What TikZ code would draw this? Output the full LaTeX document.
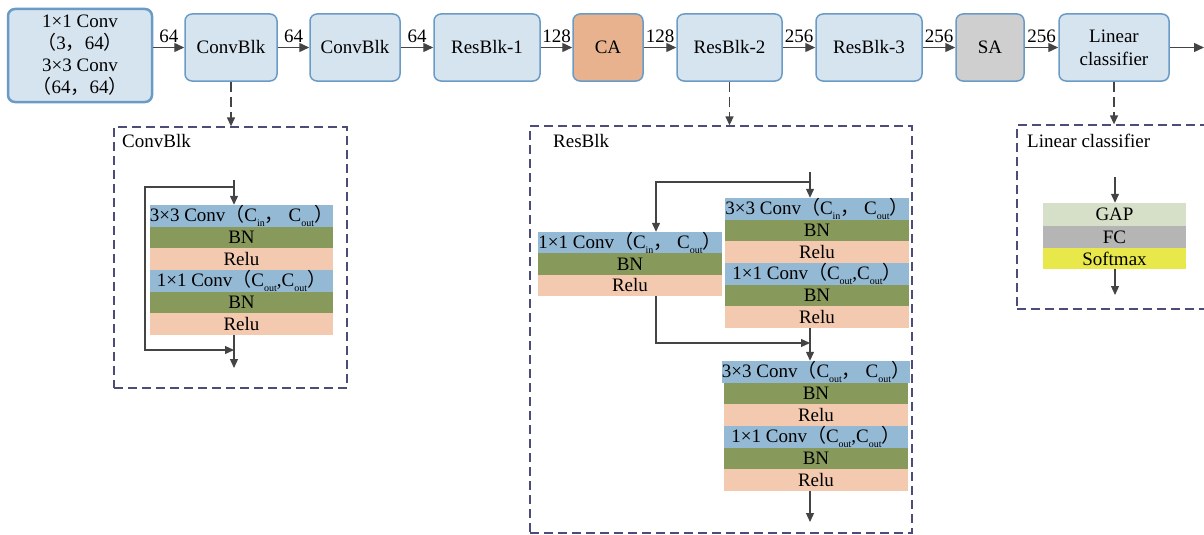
\documentclass[tikz,border=0pt]{standalone}
\usepackage{fontspec}
\setmainfont{Liberation Serif}
\newfontfamily\cjk{Noto Sans CJK SC}
\usetikzlibrary{arrows.meta}
\newcommand\zlp{{\cjk （}}
\newcommand\zrp{{\cjk ）}}
\newcommand\zcm{{\cjk ，}}
\newcommand\lowsub[1]{\raisebox{-0.55ex}{\fontsize{10}{10}\selectfont #1}}
\definecolor{boxfill}{HTML}{D6E4EF}
\definecolor{boxdraw}{HTML}{6A9BC6}
\definecolor{cafill}{HTML}{E8B28F}
\definecolor{safill}{HTML}{CFCFCF}
\definecolor{arrowgray}{HTML}{444444}
\definecolor{dashcol}{HTML}{4C4C78}
\definecolor{rowblue}{HTML}{94B9D4}
\definecolor{rowgreen}{HTML}{879A5B}
\definecolor{rowpink}{HTML}{F3C9AF}
\definecolor{gapcol}{HTML}{D6E0C9}
\definecolor{fccol}{HTML}{B5B5B5}
\definecolor{smcol}{HTML}{E8E84B}
\tikzset{
  topbox/.style={draw=boxdraw, fill=boxfill, line width=1.5pt, rounded corners=7pt,
    minimum height=67pt, inner sep=0pt, font=\fontsize{19}{23}\selectfont, align=center},
  arr/.style={draw=arrowgray, line width=1.4pt, -{Triangle[length=10pt,width=9pt]}},
  sarr/.style={draw=arrowgray, line width=1.2pt, -{Triangle[length=9pt,width=8pt]}},
  darr/.style={draw=arrowgray, line width=1.3pt, dash pattern=on 10pt off 5pt, -{Triangle[length=9pt,width=8pt]}},
  lbl/.style={above, inner sep=4pt, font=\fontsize{19}{19}\selectfont},
  dbox/.style={draw=dashcol, line width=1.3pt, dash pattern=on 9pt off 5pt, inner sep=0pt},
  dlbl/.style={anchor=west, inner sep=0pt, font=\fontsize{19}{19}\selectfont},
  row/.style={inner sep=0pt, font=\fontsize{19}{19}\selectfont},
}
\begin{document}
\begin{tikzpicture}[x=1pt,y=-1pt]
\useasboundingbox (0,0) rectangle (1204,535);
% top row
\node[topbox, line width=2.5pt, minimum width=144pt, minimum height=93pt, font=\fontsize{19}{22}\selectfont] (b1) at (80,55.5)
  {1×1 Conv\\\zlp 3\zcm 64\zrp\\3×3 Conv\\\zlp 64\zcm 64\zrp};
\node[topbox, minimum width=92pt] (cb1) at (231,47.5) {ConvBlk};
\node[topbox, minimum width=90pt] (cb2) at (355,47.5) {ConvBlk};
\node[topbox, minimum width=106pt] (rb1) at (487,47.5) {ResBlk-1};
\node[topbox, minimum width=70pt, fill=cafill] (ca) at (608,47.5) {CA};
\node[topbox, minimum width=105pt] (rb2) at (729.5,47.5) {ResBlk-2};
\node[topbox, minimum width=106pt] (rb3) at (869,47.5) {ResBlk-3};
\node[topbox, minimum width=68pt, fill=safill] (sa) at (990,47.5) {SA};
\node[topbox, minimum width=110pt] (lc) at (1114,47.5) {Linear\\classifier};
\coordinate (out) at (1204,47.5);
\draw[arr] (b1.east |- cb1.west) -- node[lbl]{64} (cb1.west);
\draw[arr] (cb1.east) -- node[lbl]{64} (cb2.west);
\draw[arr] (cb2.east) -- node[lbl]{64} (rb1.west);
\draw[arr] (rb1.east) -- node[lbl]{128} (ca.west);
\draw[arr] (ca.east) -- node[lbl]{128} (rb2.west);
\draw[arr] (rb2.east) -- node[lbl]{256} (rb3.west);
\draw[arr] (rb3.east) -- node[lbl]{256} (sa.west);
\draw[arr] (sa.east) -- node[lbl]{256} (lc.west);
\draw[arr] (lc.east) -- (out);

% dashed boxes
\node[dbox, minimum width=233pt, minimum height=261pt] (cbx) at (230.5,257.5) {};
\node[dbox, minimum width=382pt, minimum height=407pt] (rbx) at (721,329.5) {};
\node[dbox, minimum width=193pt, minimum height=184pt] (lcx) at (1113.5,217) {};
\node[dlbl] (cbxl) at (122,141) {ConvBlk};
\node[dlbl] (rbxl) at (553,141) {ResBlk};
\node[dlbl] (lcxl) at (1027,141) {Linear classifier};
\draw[darr] (cb1.south) -- (cb1.south |- cbx.north);
\draw[darr] (rb2.south) -- (rb2.south |- rbx.north);
\draw[darr] (lc.south) -- (lc.south |- lcx.north);

% ConvBlk stack
\begin{scope}[row/.append style={minimum width=183pt, minimum height=21.67pt}]
\node[row, fill=rowblue]  (c1) at (241.5,215.83) {3×3 Conv\zlp C\lowsub{in}\zcm\ C\lowsub{out}\zrp};
\node[row, fill=rowgreen] (c2) at (241.5,237.5) {BN};
\node[row, fill=rowpink]  (c3) at (241.5,259.17) {Relu};
\node[row, fill=rowblue]  (c4) at (241.5,280.83) {1×1 Conv\zlp C\lowsub{out},C\lowsub{out}\zrp};
\node[row, fill=rowgreen] (c5) at (241.5,302.5) {BN};
\node[row, fill=rowpink]  (c6) at (241.5,324.17) {Relu};
\end{scope}
\coordinate (cin) at (234,180);
\coordinate (csplit) at (234,187);
\coordinate (cleft) at (145,187);
\coordinate (cbl) at (145,350);
\coordinate (cjoin) at (234,350);
\coordinate (cout) at (234,368);
\draw[sarr] (cin) -- (cin |- c1.north);
\draw[sarr] (csplit) -- (cleft) -- (cbl) -- (cjoin);
\draw[sarr] (cjoin |- c6.south) -- (cout);

% ResBlk stacks
\begin{scope}[row/.append style={minimum width=184pt, minimum height=21.67pt}]
\node[row, fill=rowblue]  (r1) at (817,208.83) {3×3 Conv\zlp C\lowsub{in}\zcm\ C\lowsub{out}\zrp};
\node[row, fill=rowgreen] (r2) at (817,230.5) {BN};
\node[row, fill=rowpink]  (r3) at (817,252.17) {Relu};
\node[row, fill=rowblue]  (r4) at (817,273.83) {1×1 Conv\zlp C\lowsub{out},C\lowsub{out}\zrp};
\node[row, fill=rowgreen] (r5) at (817,295.5) {BN};
\node[row, fill=rowpink]  (r6) at (817,317.17) {Relu};
\node[row, fill=rowblue]  (s1) at (816,371.83) {3×3 Conv\zlp C\lowsub{out}\zcm\ C\lowsub{out}\zrp};
\node[row, fill=rowgreen] (s2) at (816,393.5) {BN};
\node[row, fill=rowpink]  (s3) at (816,415.17) {Relu};
\node[row, fill=rowblue]  (s4) at (816,436.83) {1×1 Conv\zlp C\lowsub{out},C\lowsub{out}\zrp};
\node[row, fill=rowgreen] (s5) at (816,458.5) {BN};
\node[row, fill=rowpink]  (s6) at (816,480.17) {Relu};
\end{scope}
\begin{scope}[row/.append style={minimum width=184pt, minimum height=21.33pt}]
\node[row, fill=rowblue]  (l1) at (630,242.67) {1×1 Conv\zlp C\lowsub{in}\zcm\ C\lowsub{out}\zrp};
\node[row, fill=rowgreen] (l2) at (630,264) {BN};
\node[row, fill=rowpink]  (l3) at (630,285.33) {Relu};
\end{scope}
\coordinate (rin) at (810,172);
\coordinate (rsplit) at (810,182);
\coordinate (rleft) at (656,182);
\coordinate (lbot) at (656,343);
\coordinate (rjoin) at (810,343);
\coordinate (rout) at (810,522);
\draw[sarr] (rin) -- (rin |- r1.north);
\draw[sarr] (rsplit) -- (rleft) -- (rleft |- l1.north);
\draw[sarr] (rleft |- l3.south) -- (lbot) -- (rjoin);
\draw[sarr] (rjoin |- r6.south) -- (rjoin |- s1.north);
\draw[sarr] (rjoin |- s6.south) -- (rout);

% Linear classifier stack
\begin{scope}[row/.append style={minimum width=143pt}]
\node[row, fill=gapcol, minimum height=23pt] (g1) at (1114.5,214.5) {GAP};
\node[row, fill=fccol, minimum height=22pt] (g2) at (1114.5,237) {FC};
\node[row, fill=smcol, minimum height=21pt] (g3) at (1114.5,258.5) {Softmax};
\end{scope}
\coordinate (gin) at (1115,177);
\coordinate (gout) at (1115,295);
\draw[sarr] (gin) -- (gin |- g1.north);
\draw[sarr] (gin |- g3.south) -- (gout);
\end{tikzpicture}
\end{document}
